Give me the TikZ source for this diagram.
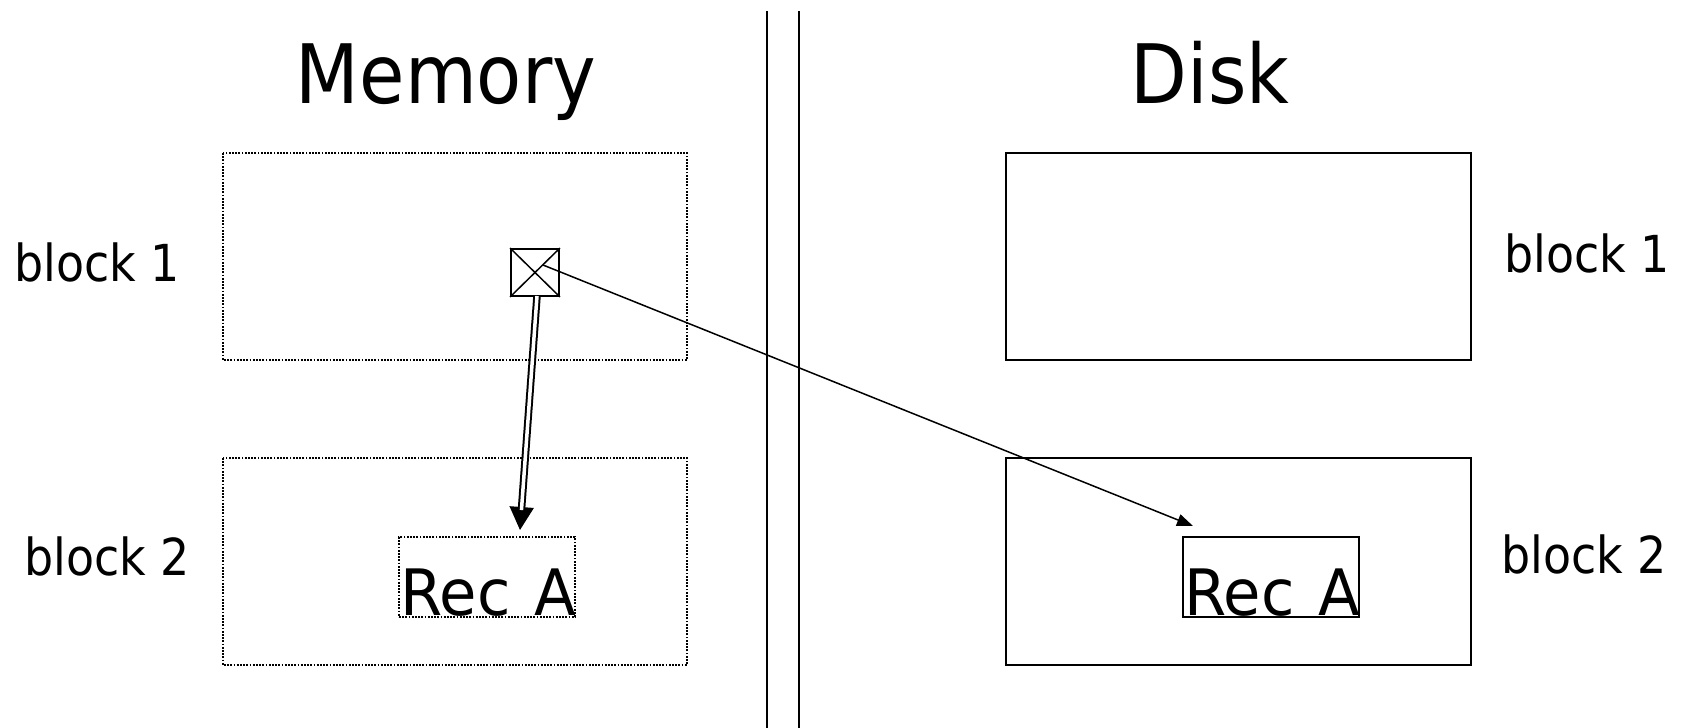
\documentclass[tikz,border=0pt]{standalone}
\usepackage{fontspec}
\newfontfamily\tah[FakeStretch=0.9]{DejaVu Sans}
\newfontfamily\tahw[FakeStretch=0.95]{DejaVu Sans}
\usetikzlibrary{arrows.meta}
\tikzset{
  memblock/.style={draw, line width=1.6pt, dash pattern=on 1.8pt off 1.4pt},
  diskblock/.style={draw, line width=1.8pt},
  lbl/.style={anchor=base, inner sep=0pt, font=\tah\fontsize{51}{56}\selectfont},
  title/.style={anchor=base, inner sep=0pt, font=\tah\fontsize{82}{90}\selectfont},
  rec/.style={anchor=base, inner sep=0pt, font=\tahw\fontsize{64}{70}\selectfont},
  sep/.style={line width=1.8pt},
  ptr/.style={line width=1.5pt, -{Triangle[length=16pt,width=12pt]}}
}
\begin{document}
\begin{tikzpicture}[x=1pt,y=-1pt]
\useasboundingbox (0,0) rectangle (1682,728);
% separators
\coordinate (s1t) at (767,11); \coordinate (s1b) at (767,728);
\coordinate (s2t) at (799,11); \coordinate (s2b) at (799,728);
\draw[sep] (s1t) -- (s1b);
\draw[sep] (s2t) -- (s2b);
% titles
\node[title] (mem) at (446,103) {Memory};
\node[title] (disk) at (1210,103) {Disk};
% memory blocks
\draw[memblock] (223,153) rectangle (687,360);
\draw[memblock] (223,458) rectangle (687,665);
% disk blocks
\draw[diskblock] (1006,153) rectangle (1471,360);
\draw[diskblock] (1006,458) rectangle (1471,665);
% labels
\node[lbl] (mb1) at (97,281) {block 1};
\node[lbl] (mb2) at (107,575) {block 2};
\node[lbl] (db1) at (1587,272) {block 1};
\node[lbl] (db2) at (1584,573) {block 2};
% Rec A boxes
\node[memblock, minimum width=176pt, minimum height=80pt, inner sep=0pt] (recm) at (487,577) {};
\node[diskblock, minimum width=176pt, minimum height=80pt, inner sep=0pt] (recd) at (1271,577) {};
\node[rec] (recmt) at (488,615) {Rec \kern4pt A};
\node[rec] (recdt) at (1272,615) {Rec \kern4pt A};
% pointer box
\node[draw, line width=1.8pt, minimum width=48pt, minimum height=47pt, inner sep=0pt] (ptrbox) at (535,272.5) {};
\draw[line width=1.5pt] (ptrbox.north west) -- (ptrbox.south east);
\draw[line width=1.5pt] (ptrbox.north east) -- (ptrbox.south west);
% double arrow to memory Rec A
\coordinate (tipm) at (520,530);
\coordinate (startm) at (537,296);
\draw[line width=2pt, -{Triangle[length=23pt,width=24pt]}] (startm) -- (tipm);
\draw[line width=2pt, double, double distance=3.5pt, shorten >=20pt] (startm) -- (tipm);
% arrow to disk Rec A
\coordinate (startd) at (543,265);
\coordinate (tipd) at (1193,526);
\draw[ptr] (startd) -- (tipd);
\end{tikzpicture}
\end{document}
